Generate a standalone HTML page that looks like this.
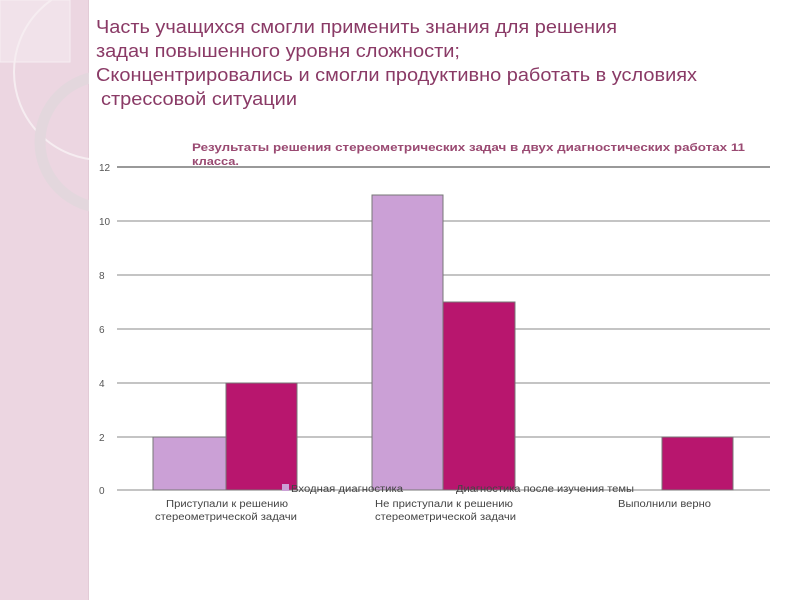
<!DOCTYPE html>
<html><head><meta charset="utf-8"><style>
body{margin:0;width:800px;height:600px;background:#fff;overflow:hidden;position:relative;font-family:"Liberation Sans",sans-serif}
.strip{position:absolute;left:0;top:0;width:88px;height:600px;background:#ecd6e1;border-right:1px solid #e2cbd6}
</style></head><body>
<div class="strip"></div>
<svg style="position:absolute;left:0;top:0" width="800" height="600" font-family="Liberation Sans, sans-serif">
<rect x="0" y="0" width="70" height="62" fill="#f1e2ea" stroke="#f6eef2"/>
<circle cx="102" cy="72" r="88" fill="none" stroke="#f6edf1" stroke-width="2"/>
<circle cx="106" cy="142" r="66" fill="none" stroke="#e3d7dd" stroke-width="11"/>
<rect x="89" y="0" width="711" height="600" fill="#fff"/>
<g fill="#8a3a66" font-size="18">
<text x="96" y="33" textLength="521" lengthAdjust="spacingAndGlyphs">Часть учащихся смогли применить знания для решения</text>
<text x="96" y="57" textLength="364" lengthAdjust="spacingAndGlyphs">задач повышенного уровня сложности;</text>
<text x="96" y="81" textLength="601" lengthAdjust="spacingAndGlyphs">Сконцентрировались и смогли продуктивно работать в условиях</text>
<text x="101" y="105" textLength="196" lengthAdjust="spacingAndGlyphs">стрессовой ситуации</text>
</g>
<g stroke="#888" stroke-width="1">
<line x1="117" y1="167" x2="770" y2="167" stroke="#999" stroke-width="2"/>
<line x1="117" y1="221" x2="770" y2="221"/>
<line x1="117" y1="275" x2="770" y2="275"/>
<line x1="117" y1="329" x2="770" y2="329"/>
<line x1="117" y1="383" x2="770" y2="383"/>
<line x1="117" y1="437" x2="770" y2="437"/>
<line x1="117" y1="490" x2="770" y2="490"/>
</g>
<g font-size="10" fill="#555">
<text x="99" y="171">12</text><text x="99" y="225">10</text><text x="99" y="279">8</text>
<text x="99" y="333">6</text><text x="99" y="387">4</text><text x="99" y="441">2</text><text x="99" y="494">0</text>
</g>
<g stroke="#777" stroke-width="1">
<rect x="153" y="437" width="73" height="53" fill="#cba0d6"/>
<rect x="226" y="383" width="71" height="107" fill="#b8166e"/>
<rect x="372" y="195" width="71" height="295" fill="#cba0d6"/>
<rect x="443" y="302" width="72" height="188" fill="#b8166e"/>
<rect x="662" y="437" width="71" height="53" fill="#b8166e"/>
</g>
<text x="192" y="151" font-size="11" font-weight="bold" fill="#9a4a72" textLength="553" lengthAdjust="spacingAndGlyphs">Результаты решения стереометрических задач в двух диагностических работах 11</text>
<text x="192" y="165" font-size="11" font-weight="bold" fill="#9a4a72" textLength="47" lengthAdjust="spacingAndGlyphs">класса.</text>
<rect x="282" y="484" width="7" height="7" fill="#cba0d6"/>
<text x="291" y="492" font-size="10" fill="#444" textLength="112" lengthAdjust="spacingAndGlyphs">Входная диагностика</text>
<text x="456" y="492" font-size="10" fill="#444" textLength="178" lengthAdjust="spacingAndGlyphs">Диагностика после изучения темы</text>
<g font-size="10" fill="#444">
<text x="166" y="507" textLength="122" lengthAdjust="spacingAndGlyphs">Приступали к решению</text>
<text x="155" y="520" textLength="142" lengthAdjust="spacingAndGlyphs">стереометрической задачи</text>
<text x="375" y="507" textLength="138" lengthAdjust="spacingAndGlyphs">Не приступали к решению</text>
<text x="375" y="520" textLength="141" lengthAdjust="spacingAndGlyphs">стереометрической задачи</text>
<text x="618" y="507" textLength="93" lengthAdjust="spacingAndGlyphs">Выполнили верно</text>
</g>
</svg>
</body></html>
